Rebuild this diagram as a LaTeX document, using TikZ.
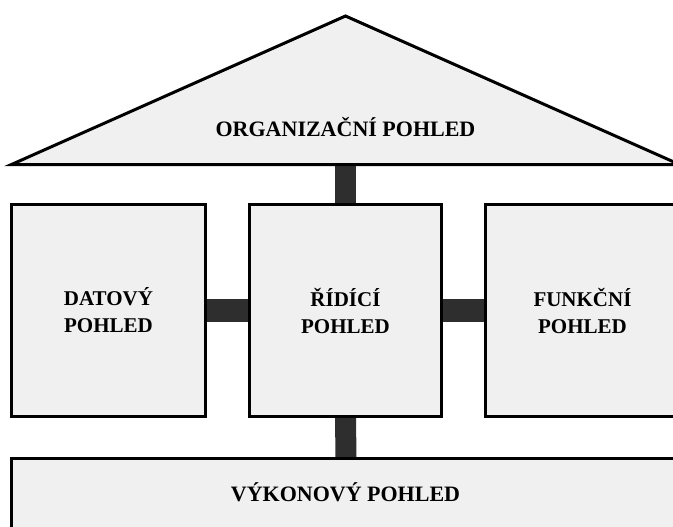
\documentclass[tikz,border=0pt]{standalone}
\usepackage{fontspec}
\setmainfont{Liberation Serif}
\usetikzlibrary{backgrounds}
\definecolor{panelfill}{HTML}{F0F0F0}
\definecolor{linkgray}{HTML}{2E2E2E}
\begin{document}
\begin{tikzpicture}[x=1pt,y=-1pt,
  viewbox/.style={draw=black, line width=3pt, fill=panelfill, align=center,
    font=\fontsize{21}{27}\selectfont\bfseries, inner sep=0pt},
  roof/.style={draw=black, line width=3pt, fill=panelfill, line join=miter},
  roomlabel/.style={font=\fontsize{22}{27}\selectfont\bfseries, align=center, inner sep=0pt},
  link/.style={draw=linkgray, line width=21pt, line cap=butt}]
\useasboundingbox (0,0) rectangle (673,527);
\clip (0,0) rectangle (673,527);

% roof: the organisational view
\draw[roof] (345.5,16) coordinate (apex) -- (679.5,164.5) coordinate (roofR)
  -- (11.5,164.5) coordinate (roofL) -- cycle;
\node[roomlabel, anchor=base] (org) at (345.5,136.5) {ORGANIZAČNÍ POHLED};
\coordinate (roofbase) at (345.5,164.5);

% the three middle views
\node[viewbox, minimum width=194pt, minimum height=212pt] (dat) at (108.5,310.5)
  {DATOVÝ\\POHLED};
\node[viewbox, minimum width=192pt, minimum height=212pt] (rid) at (345.5,310.5)
  {ŘÍDÍCÍ\\POHLED};
\node[viewbox, minimum width=194pt, minimum height=212pt] (fun) at (582.5,310.5)
  {FUNKČNÍ\\POHLED};

% foundation: the performance view
\node[viewbox, minimum width=669pt, minimum height=77pt] (vyk) at (346,497) {};
\node[roomlabel, anchor=base] (vyklabel) at (345.5,501.5) {VÝKONOVÝ POHLED};

% connecting bars behind the views
\begin{pgfonlayer}{background}
  \draw[link] (roofbase) -- (rid.north);
  \draw[link] (rid.south) -- (vyk.north);
  \draw[link, line width=23pt] (dat.east) -- (rid.west);
  \draw[link, line width=23pt] (rid.east) -- (fun.west);
\end{pgfonlayer}
\end{tikzpicture}
\end{document}
